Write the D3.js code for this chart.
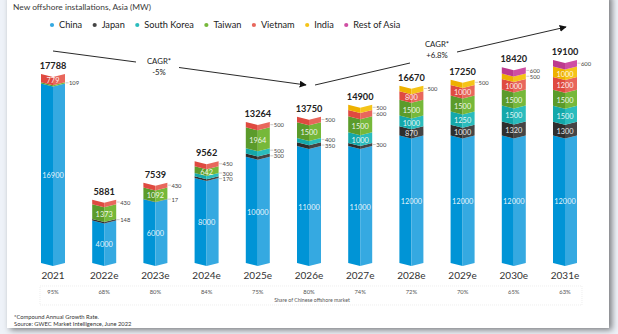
<!DOCTYPE html>
<html lang="en">
<head>
<meta charset="utf-8">
<script src="https://d3js.org/d3.v7.min.js"></script>
<title>New offshore installations, Asia</title>
<style>
  body { margin: 0; background: #eef2f8; }
  svg { display: block; font-family: Lato, "Open Sans", sans-serif; }
</style>
</head>
<body>
<script type="text/javascript">

// data
var years = ["2021", "2022e", "2023e", "2024e", "2025e", "2026e", "2027e", "2028e", "2029e", "2030e", "2031e"];
var series = ["China", "Japan", "South Korea", "Taiwan", "Vietnam", "India", "Rest of Asia"];
var china      = [16900, 4000, 6000, 8000, 10000, 11000, 11000, 12000, 12000, 12000, 12000];
var japan      = [0, 148, 17, 170, 300, 350, 300, 870, 1000, 1320, 1300];
var southKorea = [0, 0, 0, 300, 500, 400, 1000, 1000, 1250, 1500, 1500];
var taiwan     = [109, 1373, 1092, 642, 1964, 1500, 1500, 1500, 1500, 1500, 1500];
var vietnam    = [779, 430, 430, 450, 500, 500, 600, 800, 1000, 1000, 1200];
var india      = [0, 0, 0, 0, 0, 0, 500, 500, 500, 500, 1000];
var restOfAsia = [0, 0, 0, 0, 0, 0, 0, 0, 0, 600, 600];
var totals     = [17788, 5881, 7539, 9562, 13264, 13750, 14900, 16670, 17250, 18420, 19100];
var chinaShare = ["95%", "68%", "80%", "84%", "75%", "80%", "74%", "72%", "70%", "65%", "63%"];

var values = [china, japan, southKorea, taiwan, vietnam, india, restOfAsia];

// colours: [dark half, light half]
var colors = [
  ["#0094d6", "#35a9e1"],
  ["#2e2e2e", "#454545"],
  ["#14a8aa", "#2bbcbd"],
  ["#5b9b2b", "#76b83a"],
  ["#df4a40", "#e8675c"],
  ["#eeb100", "#f5c419"],
  ["#bd3a8f", "#cf4ea3"]
];

var W = 618, H = 334;
var barW = 24, notch = 3;

var svg = d3.select("body").append("svg")
  .attr("width", W)
  .attr("height", H);

// card with shadow
var defs = svg.append("defs");
var f = defs.append("filter").attr("id", "shadow")
  .attr("x", "-5%").attr("y", "-5%").attr("width", "110%").attr("height", "110%");
f.append("feDropShadow").attr("dx", 3).attr("dy", 2).attr("stdDeviation", 3)
  .attr("flood-color", "#000").attr("flood-opacity", 0.5);

svg.append("rect")
  .attr("x", 7).attr("y", -6)
  .attr("width", 602).attr("height", 334)
  .attr("fill", "#fff")
  .attr("filter", "url(#shadow)");

var x = d3.scalePoint().domain(years).range([53, 565]);
var y = d3.scaleLinear().domain([0, 19100]).range([263, 60]);

// title
svg.append("text")
  .attr("x", 13).attr("y", 10)
  .attr("font-size", 8.4)
  .attr("fill", "#3a3a3a")
  .text("New offshore installations, Asia (MW)");

// legend
var lx = 52;
series.forEach(function(s, i) {
  svg.append("circle").attr("cx", lx).attr("cy", 25).attr("r", 2.1).attr("fill", colors[i][1]);
  var t = svg.append("text")
    .attr("x", lx + 7).attr("y", 28.3)
    .attr("font-size", 9.2)
    .attr("fill", "#222")
    .text(s);
  lx += 7 + t.node().getComputedTextLength() + 12.5;
});

// segment shape (chevron top and bottom), half = 0 left, 1 right
function segPath(cx, yTop, yBot, half) {
  var x0 = half === 0 ? cx - barW / 2 : cx;
  var x1 = half === 0 ? cx : cx + barW / 2;
  var tl = half === 0 ? yTop : yTop + notch;
  var tr = half === 0 ? yTop + notch : yTop;
  var bl = half === 0 ? yBot : yBot + notch;
  var br = half === 0 ? yBot + notch : yBot;
  return "M" + x0 + "," + tl + "L" + x1 + "," + tr + "L" + x1 + "," + br + "L" + x0 + "," + bl + "Z";
}

var bars = svg.append("g").attr("id", "bars");

years.forEach(function(yr, j) {
  var cx = x(yr);
  var cum = 0;
  var outside = [];
  values.forEach(function(arr, i) {
    var v = arr[j];
    if (!v) return;
    var yBot = y(cum), yTop = y(cum + v);
    cum += v;
    bars.append("path").attr("d", segPath(cx, yTop, yBot, 0)).attr("fill", colors[i][0]);
    bars.append("path").attr("d", segPath(cx, yTop, yBot, 1)).attr("fill", colors[i][1]);
    var mid = (yTop + yBot) / 2;
    if (v > 600) {
      bars.append("text")
        .attr("x", cx).attr("y", mid + notch - 0.5)
        .attr("text-anchor", "middle")
        .attr("dominant-baseline", "central")
        .attr("font-size", 7.4)
        .attr("fill", "#fff")
        .attr("fill-opacity", 0.9)
        .text(v);
    } else {
      outside.push({ v: v, y: mid });
    }
  });

  // spread outside labels so they don't overlap
  outside.sort(function(a, b) { return a.y - b.y; });
  for (var k = 0; k < 20; k++) {
    for (var m = 1; m < outside.length; m++) {
      var gap = outside[m].y - outside[m - 1].y;
      if (gap < 5.6) {
        var push = (5.6 - gap) / 2;
        outside[m].y += push;
        outside[m - 1].y -= push;
      }
    }
  }
  outside.forEach(function(o) {
    bars.append("line")
      .attr("x1", cx + barW / 2 + 0.5).attr("x2", cx + barW / 2 + 3.5)
      .attr("y1", o.y).attr("y2", o.y)
      .attr("stroke", "#999").attr("stroke-width", 0.5);
    bars.append("text")
      .attr("x", cx + barW / 2 + 4).attr("y", o.y)
      .attr("dominant-baseline", "central")
      .attr("font-size", 5.8)
      .attr("fill", "#444")
      .text(o.v);
  });

  // total
  bars.append("text")
    .attr("x", cx).attr("y", y(totals[j]) - 5)
    .attr("text-anchor", "middle")
    .attr("font-size", 9.2)
    .attr("font-weight", "bold")
    .attr("fill", "#222")
    .text(totals[j]);
});

// x axis labels
svg.append("g").selectAll("text")
  .data(years)
  .enter().append("text")
  .attr("x", function(d) { return x(d); })
  .attr("y", 278.5)
  .attr("text-anchor", "middle")
  .attr("font-size", 10)
  .attr("fill", "#333")
  .text(function(d) { return d; });

// share row
svg.append("rect")
  .attr("x", 40).attr("y", 286)
  .attr("width", 542).attr("height", 19)
  .attr("fill", "none")
  .attr("stroke", "#e2e2e2")
  .attr("stroke-width", 0.6)
  .attr("stroke-dasharray", "1,1");

svg.append("g").selectAll("text")
  .data(chinaShare)
  .enter().append("text")
  .attr("x", function(d, i) { return x(years[i]); })
  .attr("y", 294)
  .attr("text-anchor", "middle")
  .attr("font-size", 5.8)
  .attr("fill", "#555")
  .text(function(d) { return d; });

svg.append("text")
  .attr("x", 312).attr("y", 301.5)
  .attr("text-anchor", "middle")
  .attr("font-size", 5.2)
  .attr("fill", "#555")
  .text("Share of Chinese offshore market");

// footnotes
svg.append("text")
  .attr("x", 14).attr("y", 318.5)
  .attr("font-size", 5.8)
  .attr("fill", "#333")
  .text("*Compound Annual Growth Rate.");
svg.append("text")
  .attr("x", 14).attr("y", 325.8)
  .attr("font-size", 5.8)
  .attr("fill", "#333")
  .text("Source: GWEC Market Intelligence, June 2022");

// CAGR arrows
defs.append("marker")
  .attr("id", "arrow")
  .attr("viewBox", "0 0 10 10")
  .attr("refX", 9).attr("refY", 5)
  .attr("markerWidth", 7).attr("markerHeight", 7)
  .attr("markerUnits", "userSpaceOnUse")
  .attr("orient", "auto")
  .append("path").attr("d", "M0,0L10,5L0,10Z").attr("fill", "#111");

function cagr(a, b, tx, ty, lines) {
  svg.append("line")
    .attr("x1", a[0]).attr("y1", a[1]).attr("x2", a[2]).attr("y2", a[3])
    .attr("stroke", "#111").attr("stroke-width", 0.9);
  svg.append("line")
    .attr("x1", b[0]).attr("y1", b[1]).attr("x2", b[2]).attr("y2", b[3])
    .attr("stroke", "#111").attr("stroke-width", 0.9)
    .attr("marker-end", "url(#arrow)");
  lines.forEach(function(l, i) {
    svg.append("text")
      .attr("x", tx).attr("y", ty + i * 11)
      .attr("text-anchor", "middle")
      .attr("font-size", 7.8)
      .attr("fill", "#222")
      .text(l);
  });
}

cagr([53, 51, 136, 62], [179, 67.5, 306, 85], 159, 63.5, ["CAGR*", "-5%"]);
cagr([315, 85, 410, 63], [457, 52, 566, 27], 437, 46.5, ["CAGR*", "+6.8%"]);

</script>
</body>
</html>
